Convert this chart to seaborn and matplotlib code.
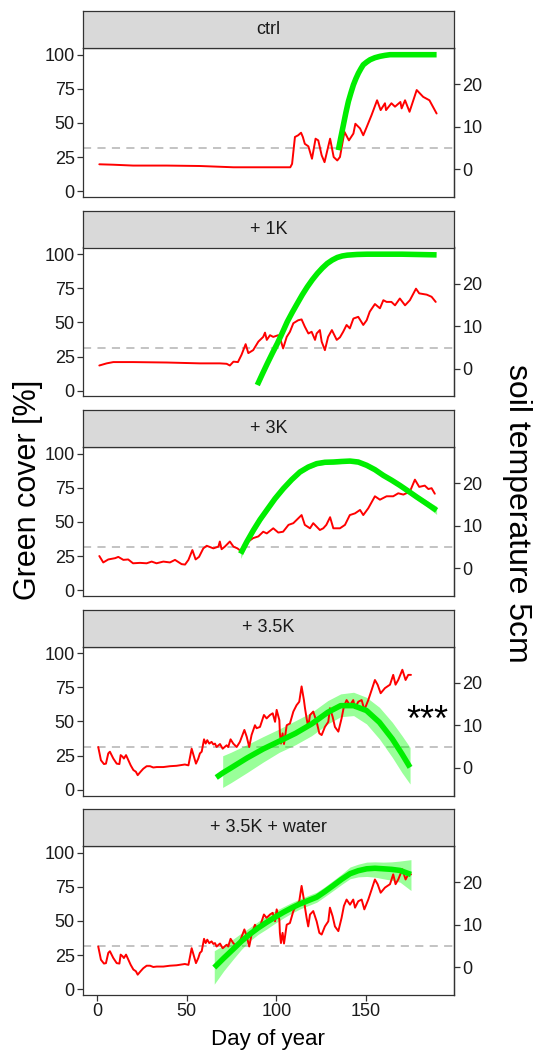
import numpy as np
import pandas as pd
import matplotlib
matplotlib.use("Agg")
import matplotlib.pyplot as plt
import seaborn as sns

sns.set_theme(style="ticks")
plt.rcParams['font.family'] = ['Liberation Sans', 'DejaVu Sans']

# ---------------- data ----------------
panels = ["ctrl", "+ 1K", "+ 3K", "+ 3.5K", "+ 3.5K + water"]

# soil temperature at 5 cm (deg C)
t_day_ctrl = [1.3, 9.1, 20.1, 38.9, 57.4, 76.1, 94.7, 107.8, 108.8, 110.4, 112.2, 113.8, 114.8, 115.9,
              117.9, 119.9, 121.9, 123.4, 125.3, 126.9, 130.0, 132.0, 134.0, 135.5, 138.0, 140.5, 143.0,
              144.1, 146.7, 148.5, 150.1, 153.1, 156.2, 158.2, 160.6, 161.2, 164.2, 166.2, 169.2, 169.9,
              171.8, 174.3, 178.3, 181.9, 185.4, 189.4]
t_val_ctrl = [1.2, 1.1, 0.9, 0.9, 0.8, 0.5, 0.5, 0.5, 1.3, 7.6, 8.0, 8.6, 7.6, 6.0,
              5.4, 2.5, 7.2, 6.8, 3.3, 1.7, 7.2, 2.9, 2.1, 2.9, 8.8, 6.8, 8.4,
              10.7, 9.6, 8.0, 9.6, 12.7, 16.2, 13.9, 15.5, 13.9, 15.5, 14.7, 15.8, 14.3,
              16.2, 13.5, 18.6, 17.0, 16.2, 13.1]

t_day_1k = [1.3, 5.4, 9.1, 20.1, 38.9, 57.4, 68.5, 72.3, 74.1, 76.1, 78.6, 80.6, 82.9, 84.4, 87.1,
            90.0, 92.7, 93.7, 94.7, 96.5, 98.3, 101.1, 102.1, 103.8, 105.8, 107.6, 109.5, 112.2,
            114.1, 115.9, 117.9, 119.7, 121.6, 122.5, 124.3, 125.3, 127.1, 128.9, 131.0, 133.7,
            135.5, 137.3, 139.2, 141.0, 143.0, 145.7, 148.5, 150.4, 152.1, 155.0, 157.8, 159.7,
            161.5, 164.2, 166.2, 168.9, 171.8, 174.5, 177.9, 179.7, 183.9, 186.6, 188.9]
t_val_1k = [0.8, 1.3, 1.6, 1.6, 1.5, 1.3, 1.3, 1.2, 0.8, 1.7, 1.6, 3.3, 5.8, 3.7, 4.4,
            6.4, 7.5, 8.5, 6.8, 7.9, 7.5, 7.9, 7.2, 4.8, 7.5, 8.7, 10.7, 11.4,
            11.6, 9.9, 8.3, 8.7, 6.8, 8.3, 9.1, 6.4, 4.4, 7.5, 9.1, 6.8,
            7.4, 8.7, 10.3, 9.5, 11.8, 12.2, 10.3, 11.4, 13.4, 15.2, 14.2, 16.1,
            15.7, 15.7, 14.9, 16.5, 14.9, 16.1, 18.8, 17.7, 17.4, 16.9, 15.7]

t_day_3k = [1.3, 3.5, 6.3, 10.1, 11.9, 14.7, 17.4, 20.1, 24.0, 27.7, 30.5, 33.2, 37.0, 40.7, 43.5,
            47.2, 49.1, 51.0, 53.2, 55.0, 56.9, 59.3, 61.2, 64.9, 67.7, 68.5, 69.5, 71.3, 74.1,
            76.1, 78.3, 80.1, 82.5, 84.4, 87.1, 90.0, 92.7, 94.7, 98.3, 101.1, 103.8, 106.8,
            109.5, 114.1, 115.9, 118.8, 120.6, 124.3, 126.2, 127.9, 130.0, 131.8, 135.5, 138.3,
            141.0, 143.9, 146.7, 148.5, 151.3, 155.0, 157.8, 161.5, 165.2, 168.0, 170.9, 174.5,
            177.3, 179.7, 182.8, 184.8, 186.6, 188.4]
t_val_3k = [2.9, 1.4, 2.1, 2.4, 2.7, 2.0, 2.1, 1.2, 1.3, 1.2, 1.6, 1.2, 1.6, 1.4, 2.0,
            1.0, 0.9, 2.0, 4.3, 2.1, 2.7, 4.7, 5.3, 4.7, 5.1, 6.3, 4.5, 5.1, 6.3,
            5.1, 4.7, 4.1, 5.9, 6.3, 7.1, 7.5, 8.6, 8.2, 9.4, 8.4, 8.6, 10.2,
            10.6, 12.5, 10.2, 9.4, 10.6, 9.0, 9.4, 10.2, 12.0, 9.4, 9.4, 10.2,
            12.5, 12.9, 13.7, 12.5, 14.1, 16.9, 16.1, 16.9, 16.9, 17.6, 17.3, 18.0,
            20.8, 19.1, 19.4, 18.6, 18.8, 17.5]

t_day_35k = [0.7, 2.2, 3.9, 5.0, 6.3, 7.2, 9.1, 11.0, 12.5, 13.2, 14.3, 15.0, 16.2, 17.5, 18.8,
             20.3, 21.7, 22.7, 24.3, 25.8, 27.7, 29.6, 31.4, 33.3, 37.0, 40.7, 44.4, 49.0, 51.0,
             52.8, 54.1, 55.2, 56.5, 57.4, 58.4, 59.7, 60.6, 61.5, 62.6, 63.9, 64.9, 65.8, 66.7,
             68.6, 70.1, 72.3, 73.2, 74.5, 76.0, 77.9, 79.7, 82.2, 83.5, 84.9, 86.2, 88.1, 89.0,
             90.9, 93.1, 94.6, 96.5, 98.0, 99.3, 100.2, 101.7, 102.0, 102.6, 103.5, 104.3, 105.8,
             107.6, 109.5, 111.3, 112.8, 114.1, 115.4, 116.0, 116.9, 117.8, 118.8, 120.6, 122.5,
             124.0, 125.3, 127.1, 129.0, 129.9, 131.4, 132.7, 134.6, 136.4, 137.7, 139.2, 141.1,
             142.9, 143.9, 145.7, 147.6, 149.1, 151.3, 153.2, 155.0, 156.5, 158.2, 160.6, 163.4,
             165.2, 166.5, 168.0, 170.3, 172.1, 173.6, 175.1]
t_val_35k = [4.9, 1.8, 0.9, 1.0, 3.4, 3.8, 2.2, 1.0, 0.9, 3.0, 2.6, 2.2, 3.0, 1.8, 0.6,
             -0.5, -0.9, -1.7, -0.9, -0.2, 0.4, 0.4, 0.1, 0.2, 0.2, 0.4, 0.5, 0.8, 0.6,
             4.5, 2.6, 1.0, 2.2, 3.4, 3.8, 6.7, 5.7, 6.5, 5.7, 6.1, 5.5, 5.7, 4.9,
             5.6, 4.5, 5.3, 4.9, 6.7, 5.7, 4.9, 6.1, 8.9, 7.3, 4.9, 7.7, 10.0, 9.3,
             9.6, 12.4, 11.6, 12.4, 12.8, 10.8, 13.6, 11.2, 8.1, 5.7, 8.1, 5.6, 10.0,
             10.4, 13.2, 14.7, 15.5, 19.1, 15.9, 14.0, 11.6, 9.6, 12.4, 13.2, 10.8,
             8.1, 7.7, 9.6, 10.8, 14.0, 12.0, 9.6, 8.5, 11.6, 14.4, 15.9, 14.7,
             15.9, 14.0, 15.5, 15.9, 13.6, 15.9, 18.3, 20.6, 19.5, 17.5, 18.7, 19.5,
             21.8, 19.5, 20.6, 23.0, 20.6, 21.8, 21.8]

# fitted green cover (%) and its confidence band
g_day_ctrl = [134.6, 136.0, 137.4, 138.8, 140.2, 141.6, 143.0, 144.4, 145.8, 147.2, 148.5, 150.4,
              152.3, 155.0, 157.8, 160.6, 163.4, 170.0, 180.0, 189.4]
g_fit_ctrl = [30.1, 39.5, 48.5, 57.5, 65.7, 72.0, 77.9, 82.5, 86.5, 89.8, 92.6, 94.6,
              96.3, 97.8, 98.8, 99.5, 100.0, 100.0, 100.0, 100.0]

g_day_1k = [89.4, 92.2, 95.0, 97.8, 100.6, 103.4, 106.1, 108.9, 111.7, 114.5, 117.3, 120.1,
            122.9, 125.7, 128.4, 131.2, 134.0, 136.8, 139.6, 145.0, 150.7, 170.0, 189.4]
g_fit_1k = [4.2, 12.2, 20.0, 27.5, 34.7, 42.6, 50.5, 57.4, 63.9, 70.3, 76.1, 81.3,
            85.9, 89.9, 93.2, 95.7, 97.6, 98.7, 99.3, 99.8, 100.0, 100.0, 99.5]

g_day_3k = [80.1, 83.5, 87.2, 90.9, 94.6, 99.3, 103.9, 108.6, 113.2, 117.8, 122.5, 127.1, 131.8,
            136.4, 141.1, 145.7, 150.4, 155.0, 159.7, 164.3, 168.9, 173.6, 178.3, 183.8, 189.4]
g_fit_3k = [26.8, 35.4, 43.9, 51.7, 58.5, 67.1, 74.4, 81.0, 86.6, 90.2, 92.7, 93.7, 93.9,
            94.3, 94.6, 93.9, 91.5, 88.3, 84.1, 80.6, 76.8, 72.6, 68.3, 63.5, 58.5]
g_lo_3k = [23.3, 32.4, 41.4, 49.5, 56.5, 65.3, 72.8, 79.5, 85.1, 88.7, 91.2, 92.2, 92.4,
           92.8, 93.1, 92.4, 90.0, 86.8, 82.6, 79.0, 75.1, 70.8, 66.3, 61.2, 55.5]
g_hi_3k = [30.3, 38.4, 46.4, 53.9, 60.5, 68.9, 76.0, 82.5, 88.1, 91.7, 94.2, 95.2, 95.4,
           95.8, 96.1, 95.4, 93.0, 89.8, 85.6, 82.2, 78.5, 74.4, 70.3, 65.8, 61.5]

g_day_35k = [66.5, 70.1, 74.6, 83.6, 92.6, 101.6, 110.7, 119.7, 128.7, 135.9, 143.1, 150.3,
             157.5, 164.7, 170.1, 174.6]
g_fit_35k = [9.0, 12.3, 15.9, 23.2, 29.8, 35.5, 41.3, 48.2, 56.7, 61.6, 61.6, 58.0,
             49.4, 37.2, 26.2, 16.4]
g_lo_35k = [np.nan, 1.7, 5.1, 12.5, 20.2, 27.4, 33.0, 39.6, 48.2, 53.5, 54.3, 48.2,
            37.2, 23.7, 12.5, 4.2]
g_hi_35k = [np.nan, 24.9, 27.4, 33.0, 38.9, 44.5, 50.6, 56.7, 65.3, 70.2, 71.4, 67.7,
            60.4, 49.4, 39.6, 31.0]

g_day_35kw = [65.4, 70.7, 76.0, 80.6, 85.3, 90.0, 94.6, 99.3, 104.0, 108.6, 113.2, 117.9, 122.5,
              127.1, 131.8, 136.4, 141.1, 145.7, 150.4, 155.0, 159.7, 164.3, 169.0, 175.1]
g_fit_35kw = [15.9, 22.8, 29.4, 35.2, 40.4, 45.0, 49.0, 52.8, 56.4, 59.6, 62.5, 65.0, 67.4,
              71.5, 76.0, 80.5, 84.6, 86.8, 88.2, 88.6, 88.2, 87.8, 87.0, 84.1]
g_lo_35kw = [3.7, 13.5, 22.1, 29.3, 35.5, 40.3, 44.1, 48.3, 52.2, 55.7, 58.8, 61.3, 63.7,
             67.9, 72.3, 76.7, 80.9, 82.3, 82.6, 82.1, 80.9, 79.8, 78.4, 72.3]
g_hi_35kw = [28.2, 32.3, 36.8, 41.2, 45.3, 49.7, 53.9, 57.4, 60.5, 63.5, 66.2, 68.7, 71.1,
             75.1, 79.7, 84.3, 89.5, 91.6, 93.1, 93.3, 93.1, 93.3, 93.9, 94.9]

threshold_temp = 5
signif_label = "***"
signif_panel = "+ 3.5K"
right_ticks = [0, 10, 20]
left_ticks = [0, 25, 50, 75, 100]
x_ticks = [0, 50, 100, 150]

# secondary axis transform (as in the original sec_axis)
SCALE, OFFSET = 3.125, 16.0
def t2c(t):
    return OFFSET + SCALE * np.asarray(t, dtype=float)
def c2t(c):
    return (np.asarray(c, dtype=float) - OFFSET) / SCALE

temp_src = {
    "ctrl": (t_day_ctrl, t_val_ctrl),
    "+ 1K": (t_day_1k, t_val_1k),
    "+ 3K": (t_day_3k, t_val_3k),
    "+ 3.5K": (t_day_35k, t_val_35k),
    "+ 3.5K + water": (t_day_35k, t_val_35k),
}
green_src = {
    "ctrl": (g_day_ctrl, g_fit_ctrl, None, None),
    "+ 1K": (g_day_1k, g_fit_1k, None, None),
    "+ 3K": (g_day_3k, g_fit_3k, g_lo_3k, g_hi_3k),
    "+ 3.5K": (g_day_35k, g_fit_35k, g_lo_35k, g_hi_35k),
    "+ 3.5K + water": (g_day_35kw, g_fit_35kw, g_lo_35kw, g_hi_35kw),
}
temp_df = pd.concat([pd.DataFrame({"panel": p, "day": d, "temp": v}) for p, (d, v) in temp_src.items()])
temp_df["cover"] = t2c(temp_df["temp"])
rows = []
for p, (d, f, l, h) in green_src.items():
    rows.append(pd.DataFrame({"panel": p, "day": d, "fit": f,
                              "lo": l if l is not None else np.nan,
                              "hi": h if h is not None else np.nan}))
green_df = pd.concat(rows)

# ---------------- figure ----------------
W, H = 533, 1055
fig = plt.figure(figsize=(W / 100, H / 100), dpi=100)

x0, x1 = 83, 454
pitch = 199.5
edge = "#333333"
txt = "#1a1a1a"

for i, p in enumerate(panels):
    top_strip = 11 + pitch * i
    top_ax = 48 + pitch * i
    bot_ax = 197 + pitch * i
    ax = fig.add_axes([x0 / W, 1 - bot_ax / H, (x1 - x0) / W, (bot_ax - top_ax) / H])
    sax = fig.add_axes([x0 / W, 1 - top_ax / H, (x1 - x0) / W, (top_ax - top_strip) / H])

    # strip
    sax.set_facecolor("#D9D9D9")
    sax.set_xticks([]); sax.set_yticks([])
    for s in sax.spines.values():
        s.set_color(edge); s.set_linewidth(0.9); s.set_visible(True)
    sax.text(0.5, 0.5, p, ha="center", va="center", fontsize=13, color=txt, transform=sax.transAxes)

    # threshold line
    ax.axhline(t2c(threshold_temp), color="#BEBEBE", lw=1.3, ls=(0, (4.5, 3.5)), zorder=1)

    g = green_df[green_df.panel == p]
    gb = g.dropna(subset=["lo", "hi"])
    if len(gb):
        ax.fill_between(gb["day"], gb["lo"], gb["hi"], color="#00FF00", alpha=0.4, lw=0, zorder=2)
    sns.lineplot(data=temp_df[temp_df.panel == p], x="day", y="cover", ax=ax, color="#FF0000",
                 lw=1.4, estimator=None, sort=False, zorder=3)
    sns.lineplot(data=g, x="day", y="fit", ax=ax, color="#00EE00", lw=4.0, estimator=None,
                 sort=False, zorder=4, solid_capstyle="butt", solid_joinstyle="round")

    ax.set_xlim(-7.8, 199.1)
    ax.set_ylim(-4.2, 104.9)
    ax.set_yticks(left_ticks)
    ax.set_xticks(x_ticks)
    ax.set_xlabel(""); ax.set_ylabel("")
    for s in ax.spines.values():
        s.set_visible(True); s.set_color(edge); s.set_linewidth(0.9)
    ax.tick_params(axis="both", direction="out", length=4, width=0.9, color=edge,
                   labelsize=13, labelcolor=txt, pad=2)
    if i < len(panels) - 1:
        ax.tick_params(axis="x", bottom=False, labelbottom=False)

    sec = ax.secondary_yaxis("right", functions=(c2t, t2c))
    sec.set_yticks(right_ticks)
    sec.spines["right"].set_color(edge)
    sec.spines["right"].set_linewidth(0.9)
    sec.tick_params(direction="out", length=4, width=0.9, color=edge,
                    labelsize=13, labelcolor=txt, pad=2)

    if p == signif_panel:
        ax.text(184.0, 50.0, signif_label, ha="center", va="center", fontsize=26, color="black")

fig.text(28 / W, 1 - 490 / H, "Green cover [%]", rotation=90, ha="center", va="center",
         fontsize=22, color="black")
fig.text(517 / W, 1 - 513 / H, "soil temperature 5cm", rotation=270, ha="center", va="center",
         fontsize=23, color="black")
fig.text(268 / W, 1 - 1040 / H, "Day of year", ha="center", va="center", fontsize=16, color="black")

fig.savefig("out.png", dpi=100)
